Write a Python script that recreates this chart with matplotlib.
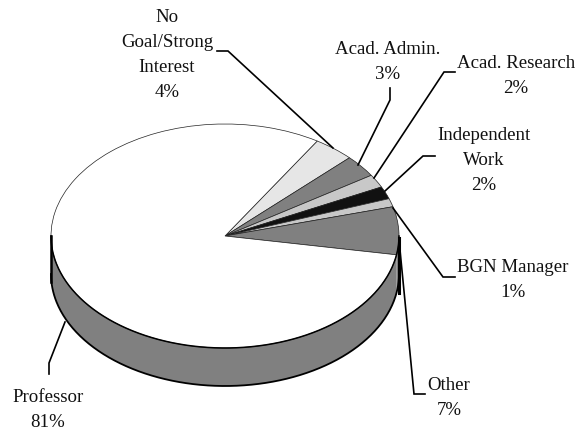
#!/usr/bin/python3
# -*- coding: utf-8 -*-

"""
3d looking pie chart of career goals
"""

import numpy as np
import matplotlib
matplotlib.use("Agg")
import matplotlib.pyplot as plt
from matplotlib.patches import Polygon

categories = ["No\nGoal/Strong\nInterest", "Acad. Admin.", "Acad. Research",
              "Independent\nWork", "BGN Manager", "Other", "Professor"]
# slice sizes, the labels carry the rounded numbers
shares = [3.8, 3.2, 1.9, 1.8, 1.2, 6.9, 81.2]
percent_labels = [4, 3, 2, 2, 1, 7, 81]

colors = ["#e6e6e6", "#808080", "#c8c8c8", "#111111", "#c8c8c8", "#808080", "#ffffff"]

W, H = 584, 430
CX, CY = 225, 236   # pie centre in pixels
RX, RY = 174, 112   # ellipse radii in pixels
DEPTH = 38 / RY
START = 58

plt.rcParams["font.family"] = ["Liberation Serif", "DejaVu Serif"]
plt.rcParams["font.size"] = 13.6

fig = plt.figure(figsize=(W / 100, H / 100), dpi=100)

# pie axes: unit circle gets squeezed into the ellipse
ax = fig.add_axes([0, 0, 1, 1])
ax.pie(
    shares,
    colors=colors,
    startangle=START,
    counterclock=False,
    radius=1,
    wedgeprops={"edgecolor": "#222222", "linewidth": 0.5, "zorder": 3},
)
ax.set_aspect("auto")
ax.set_xlim(-CX / RX, (W - CX) / RX)
ax.set_ylim((CY - H) / RY, CY / RY)
ax.axis("off")

# side wall, one piece for each slice which reaches into the lower half
ends = START - np.cumsum(shares) * 3.6
begins = np.concatenate([[START], ends[:-1]])
for a_from, a_to, col in zip(begins, ends, colors):
    t_hi = min(a_from, 0)
    t_lo = max(a_to, -180)
    if t_hi <= t_lo:
        continue
    t = np.radians(np.linspace(t_lo, t_hi, 120))
    xs = np.cos(t)
    ys = np.sin(t)
    pts = np.column_stack(
        [np.concatenate([xs, xs[::-1]]), np.concatenate([ys, ys[::-1] - DEPTH])]
    )
    ax.add_patch(Polygon(pts, closed=True, facecolor="#808080", edgecolor="none", zorder=2))

t = np.radians(np.linspace(-180, 0, 300))
ax.plot(np.cos(t), np.sin(t), color="black", lw=1.1, zorder=4)
ax.plot(np.cos(t), np.sin(t) - DEPTH, color="black", lw=1.3, zorder=4)

# overlay in pixel coordinates for the labels and leader lines
ov = fig.add_axes([0, 0, 1, 1])
ov.patch.set_alpha(0)
ov.set_xlim(0, W)
ov.set_ylim(H, 0)
ov.axis("off")

# heavy edges of the wall
ov.plot([51, 51], [236, 282], color="black", lw=1.8, zorder=5)
ov.plot([398.5, 398.5], [238, 293], color="black", lw=2.2, zorder=5)

leaders = [
    ([217, 228, 333], [51, 51, 148]),
    ([390, 390, 358], [88, 100, 165]),
    ([455, 444, 374], [72, 72, 178]),
    ([435, 423, 385], [156, 156, 191]),
    ([455, 443, 393], [277, 277, 208]),
    ([425, 414, 400], [394, 394, 250]),
    ([49, 49, 65], [374, 363, 322]),
]
for lx, ly in leaders:
    ov.plot(lx, ly, color="black", lw=1.2, zorder=5, solid_joinstyle="miter")

label_pos = [(167, 17), (388, 49), (516, 63), (484, 135), (513, 267), (449, 385), (48, 397)]
LINE = 25.2
for name, pct, (px, py) in zip(categories, percent_labels, label_pos):
    for i, line in enumerate(name.split("\n") + ["%d%%" % pct]):
        ov.text(px, py + i * LINE, line, ha="center", va="center", color="#111111")

plt.savefig("out.png", dpi=100)
